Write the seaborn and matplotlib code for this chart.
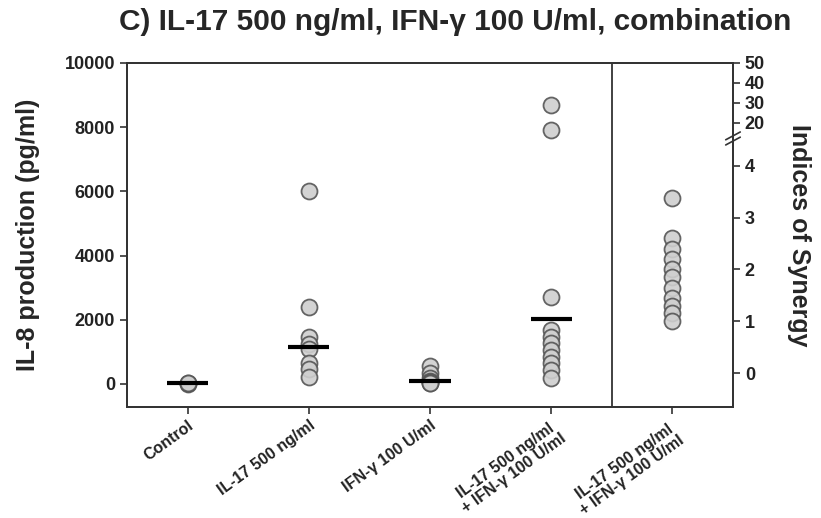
import numpy as np
import pandas as pd
import matplotlib
matplotlib.use("Agg")
import matplotlib.pyplot as plt
import matplotlib.transforms as mtransforms
import seaborn as sns

# Données
groupes = ["Control", "IL-17 500 ng/ml", "IFN-\u03b3 100 U/ml",
           "IL-17 500 ng/ml\n+ IFN-\u03b3 100 U/ml",
           "IL-17 500 ng/ml\n+ IFN-\u03b3 100 U/ml "]

control = [0, 20, 40]
il17 = [6000, 2400, 1450, 1250, 1100, 650, 450, 200]
ifng = [550, 350, 180, 90, 60, 30, 20]
combo = [8700, 7900, 2700, 1690, 1470, 1280, 1060, 840, 650, 440, 190]
barres = [20, 1160, 90, 2030]  # traits horizontaux

synergie = [3.37, 2.6, 2.4, 2.2, 2.0, 1.85, 1.65, 1.45, 1.3, 1.15, 1.0]
synergie_ticks = [0, 1, 2, 3, 4, 20, 30, 40, 50]


def echelle_coupee(v):
    # axe droit : linéaire 0-4, puis coupure, puis 20-50 compressé
    v = np.asarray(v, dtype=float)
    return np.where(v <= 4, v, 4.827 + (v - 20) * 0.03846)


df = pd.DataFrame({
    "groupe": [groupes[0]] * len(control) + [groupes[1]] * len(il17)
              + [groupes[2]] * len(ifng) + [groupes[3]] * len(combo),
    "valeur": control + il17 + ifng + combo,
})
df_syn = pd.DataFrame({"groupe": [groupes[4]] * len(synergie),
                       "valeur": echelle_coupee(synergie)})

sns.set_style("ticks")
plt.rcParams["font.family"] = ["Liberation Sans", "DejaVu Sans"]
plt.rcParams["font.weight"] = "bold"

fig = plt.figure(figsize=(8.21, 5.18), dpi=100)
ax = fig.add_axes([0.1547, 0.2143, 0.7381, 0.6641])

pt = dict(jitter=False, size=11.5, color="#cfcfcf", edgecolor="#555555",
          linewidth=1.3, alpha=0.9)
sns.stripplot(data=df, x="groupe", y="valeur", order=groupes, ax=ax, **pt)
ax.hlines(barres, np.arange(4) - 0.17, np.arange(4) + 0.17,
          color="black", linewidth=3, zorder=5)

ax2 = ax.twinx()
sns.stripplot(data=df_syn, x="groupe", y="valeur", order=groupes, ax=ax2, **pt)

ax.set_xlim(-0.5, 4.5)
ax.set_ylim(-720, 10000)
ax2.set_ylim(-0.654, 5.96)
ax.axvline(3.5, color="#333333", linewidth=1.3)

ax.set_yticks([0, 2000, 4000, 6000, 8000, 10000])
ax.set_yticklabels(["0", "2000", "4000", "6000", "8000", "10000"],
                   fontsize=13, fontweight="bold")
ax2.set_yticks(echelle_coupee(synergie_ticks))
ax2.set_yticklabels([str(t) for t in synergie_ticks], fontsize=13, fontweight="bold")
ax.set_xticks(range(5))
ax.set_xticklabels(groupes, rotation=36, ha="right", rotation_mode="anchor",
                   fontsize=11.5, fontweight="bold", multialignment="center",
                   linespacing=1.0)

for a in (ax, ax2):
    for s in a.spines.values():
        s.set_visible(True)
        s.set_linewidth(1.3)
        s.set_color("#333333")
    a.tick_params(direction="out", length=5, width=1.2, color="#333333",
                  labelcolor="#222222")
    a.set_xlabel("")
ax.tick_params(axis="x", pad=3)
ax.set_ylabel("IL-8 production (pg/ml)", fontsize=18, fontweight="bold", labelpad=18)
ax2.set_ylabel("Indices of Synergy", fontsize=18, fontweight="bold",
               rotation=270, labelpad=33)

# marque de coupure sur l'axe droit seulement
tr = mtransforms.blended_transform_factory(ax2.transAxes, ax2.transData)
for dy in (-0.05, 0.05):
    ax2.plot([0.988, 1.012], [4.45 + dy, 4.6 + dy], transform=tr,
             color="#333333", linewidth=1.2, clip_on=False)

fig.suptitle("C) IL-17 500 ng/ml, IFN-\u03b3 100 U/ml, combination",
             x=0.555, y=0.985, fontsize=21.5, fontweight="bold")

fig.savefig("out.png", dpi=100)
plt.close()
